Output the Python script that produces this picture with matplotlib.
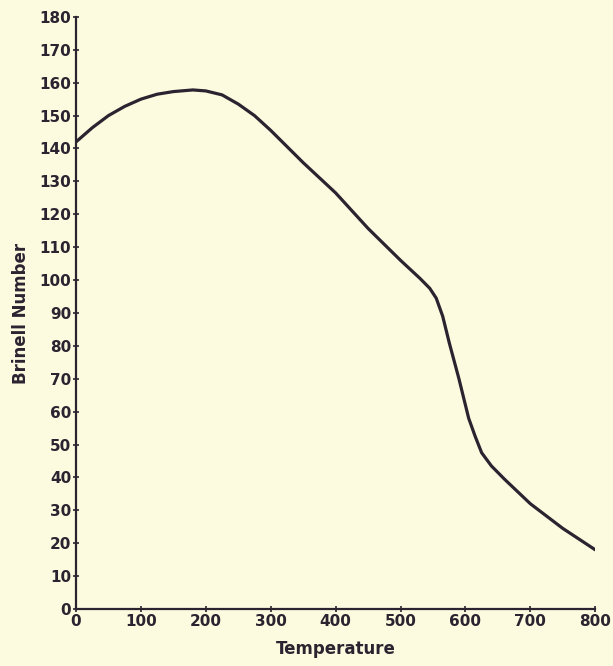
import matplotlib
matplotlib.use('Agg')
import matplotlib.pyplot as plt

# values
temperature = [0, 25, 50, 75, 100, 125, 150, 180, 200, 225, 250, 275, 300, 350, 400, 450, 500,
               530, 545, 555, 565, 575, 590, 605, 615, 625, 640, 660, 700, 750, 800]
brinell = [142, 146.3, 150, 152.8, 155, 156.5, 157.3, 157.8, 157.5, 156.3, 153.5, 150, 145.5, 135.7,
           126.5, 115.7, 106, 100.5, 97.5, 94.5, 89, 81, 70, 58, 52.5, 47.5, 43.5, 39.5, 32, 24.5, 18]

x_ticks = list(range(0, 801, 100))
y_ticks = list(range(0, 181, 10))

bg = '#fcfbe0'
ink = '#2b2430'

fig = plt.figure(figsize=(6.13, 6.66), dpi=100, facecolor=bg)
ax = fig.add_axes([0.124, 0.0856, 0.847, 0.889], facecolor=bg)

ax.plot(temperature, brinell, color=ink, linewidth=2.3, solid_capstyle='round', solid_joinstyle='round')

ax.set_xlim(0, 800)
ax.set_ylim(0, 180)
ax.set_xticks(x_ticks)
ax.set_yticks(y_ticks)

for side in ['top', 'right']:
    ax.spines[side].set_visible(False)
for side in ['left', 'bottom']:
    ax.spines[side].set_color(ink)
    ax.spines[side].set_linewidth(1.6)

ax.tick_params(direction='inout', length=5, width=1.2, colors=ink, labelsize=11, pad=1)
for lab in ax.get_xticklabels() + ax.get_yticklabels():
    lab.set_fontweight('bold')

ax.set_xlabel('Temperature', fontsize=12, fontweight='bold', color=ink, labelpad=8)
ax.set_ylabel('Brinell Number', fontsize=12, fontweight='bold', color=ink, labelpad=7)

plt.savefig('out.png', dpi=100, facecolor=bg)
